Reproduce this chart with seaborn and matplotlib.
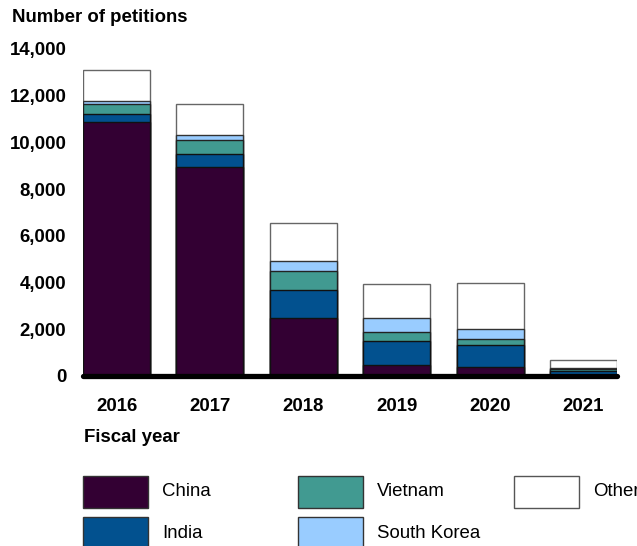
import matplotlib
matplotlib.use("Agg")
import matplotlib.pyplot as plt
import seaborn as sns
import pandas as pd
import numpy as np
from matplotlib.patches import Rectangle

years = ["2016", "2017", "2018", "2019", "2020", "2021"]
china = [10870, 8930, 2470, 470, 385, 30]
india = [340, 580, 1230, 1020, 925, 190]
vietnam = [420, 580, 810, 410, 260, 80]
south_korea = [150, 240, 430, 570, 430, 60]
other = [1320, 1310, 1590, 1450, 1990, 320]

series_names = ["China", "India", "Vietnam", "South Korea", "Other"]
series_vals = [china, india, vietnam, south_korea, other]
colors = ["#330033", "#02518F", "#419A91", "#99CCFF", "#FFFFFF"]
edges = ["#111111", "#111111", "#222222", "#333333", "#666666"]

yticks = [0, 2000, 4000, 6000, 8000, 10000, 12000, 14000]

sns.set_theme(style="white")
plt.rcParams["font.family"] = ["Liberation Sans", "DejaVu Sans"]
plt.rcParams["text.color"] = "black"
plt.rcParams["xtick.color"] = "black"
plt.rcParams["ytick.color"] = "black"

FS = 13.4
W, H = 637, 546
fig = plt.figure(figsize=(W / 100, H / 100), dpi=100)
ax = fig.add_axes([83 / W, 1 - 376 / H, 534 / W, (376 - 49) / H])

cum = np.cumsum(np.array(series_vals), axis=0)
# draw from top of stack downwards so each lower layer overlays
for i in range(len(series_names) - 1, -1, -1):
    df = pd.DataFrame({"year": years, "value": cum[i]})
    sns.barplot(data=df, x="year", y="value", order=years, ax=ax,
                color=colors[i], edgecolor=edges[i], linewidth=1,
                width=0.718, saturation=1, errorbar=None)

ax.set_xlim(-0.359, 5.359)
ax.set_ylim(0, 14000)
ax.set_yticks(yticks)
ax.set_yticklabels([f"{v:,}" for v in yticks], fontsize=FS, fontweight="bold")
ax.set_xticks(range(len(years)))
ax.set_xticklabels(years, fontsize=FS, fontweight="bold")
ax.tick_params(axis="y", length=0, pad=12)
ax.tick_params(axis="x", length=0, pad=15.5)
ax.set_xlabel("")
ax.set_ylabel("")
for s in ax.spines.values():
    s.set_visible(False)
ax.axhline(0, color="black", lw=3.8, clip_on=False, zorder=5)

fig.text(12 / W, 1 - 18 / H, "Number of petitions", fontsize=FS,
         fontweight="bold", ha="left", va="center")
fig.text(84 / W, 1 - 437 / H, "Fiscal year", fontsize=FS,
         fontweight="bold", ha="left", va="center")

# legend: 3 columns, filled column-wise
col_x = [83, 298, 514]
row_y = [476, 517]
pw, ph = 65, 32
legend_pos = [(0, 0), (0, 1), (1, 0), (1, 1), (2, 0)]
for i, (c, r) in enumerate(legend_pos):
    x, y = col_x[c], row_y[r]
    fig.add_artist(Rectangle((x / W, 1 - (y + ph) / H), pw / W, ph / H,
                             transform=fig.transFigure, facecolor=colors[i],
                             edgecolor="#333333" if i < 4 else "#555555",
                             linewidth=1))
    fig.text((x + pw + 14) / W, 1 - (y + ph / 2) / H, series_names[i],
             fontsize=FS, ha="left", va="center")

fig.savefig("out.png", dpi=100)
